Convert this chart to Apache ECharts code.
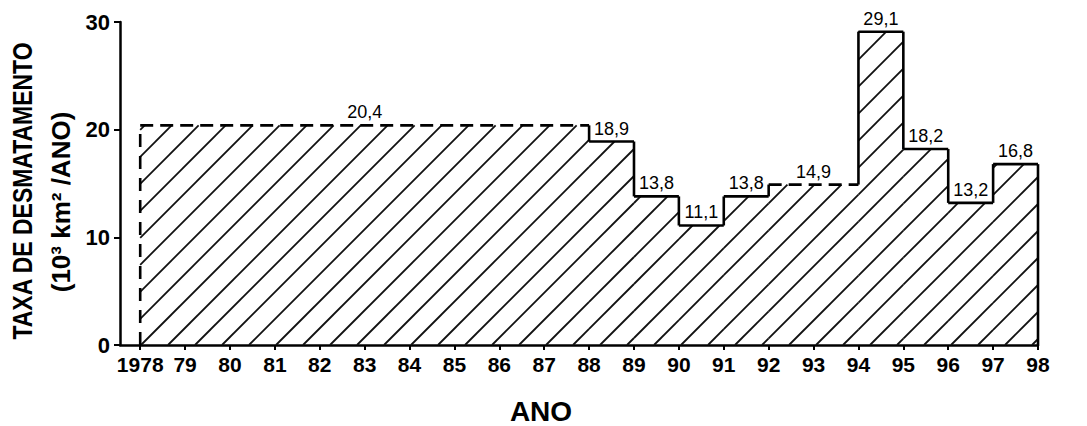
<!DOCTYPE html>
<html>
<head>
<meta charset="utf-8">
<script src="https://cdn.jsdelivr.net/npm/echarts@6/dist/echarts.min.js"></script>
<style>
html,body{margin:0;padding:0;background:#fff;}
#chart{width:1087px;height:426px;}
</style>
</head>
<body>
<div id="chart"></div>
<script>
// ---- data ----
const periodStart = [1978, 1988, 1989, 1990, 1991, 1992, 1994, 1995, 1996, 1997];
const periodEnd   = [1988, 1989, 1990, 1991, 1992, 1994, 1995, 1996, 1997, 1998];
const rates       = [20.4, 18.9, 13.8, 11.1, 13.8, 14.9, 29.1, 18.2, 13.2, 16.8];
const estimated   = [1, 0, 0, 0, 0, 1, 0, 0, 0, 0]; // dashed (mean of period)
const tickYears   = [1978,1979,1980,1981,1982,1983,1984,1985,1986,1987,1988,
                     1989,1990,1991,1992,1993,1994,1995,1996,1997,1998];
const tickLabels  = ['1978','79','80','81','82','83','84','85','86','87','88',
                     '89','90','91','92','93','94','95','96','97','98'];
const yTicks      = [0, 10, 20, 30];

const FONT = '"Liberation Sans", Arial, sans-serif';

const seriesData = periodStart.map((s, i) => [
  s, periodEnd[i], rates[i], i > 0 ? rates[i - 1] : 0, estimated[i]
]);
const lastIndex = seriesData.length - 1;

function renderItem(params, api) {
  const x0 = api.coord([api.value(0), 0])[0];
  const x1 = api.coord([api.value(1), 0])[0];
  const yb = api.coord([api.value(0), 0])[1];
  const yt = api.coord([api.value(0), api.value(2)])[1];
  const yp = api.coord([api.value(0), api.value(3)])[1];
  const dashed = api.value(4) === 1;
  const idx = params.dataIndex;
  const children = [];
  // diagonal hatching "/" : lines x + y = k
  const step = 27;
  for (let k = Math.ceil((x0 + yt) / step) * step; k <= x1 + yb; k += step) {
    const xa = Math.max(x0, k - yb);
    const xb = Math.min(x1, k - yt);
    if (xb > xa) {
      children.push({
        type: 'line', silent: true,
        shape: { x1: xa, y1: k - xa, x2: xb, y2: k - xb },
        style: { stroke: '#111', lineWidth: 1.8 }
      });
    }
  }
  // top edge
  children.push({
    type: 'line', silent: true,
    shape: { x1: x0, y1: yt, x2: x1, y2: yt },
    style: { stroke: '#000', lineWidth: 2.6, lineDash: dashed ? [13, 7] : null }
  });
  // left edge (from previous level)
  children.push({
    type: 'line', silent: true,
    shape: { x1: x0, y1: yp, x2: x0, y2: yt },
    style: { stroke: '#000', lineWidth: 2.6, lineDash: idx === 0 ? [13, 9] : null }
  });
  if (idx === lastIndex) {
    children.push({
      type: 'line', silent: true,
      shape: { x1: x1, y1: yt, x2: x1, y2: yb },
      style: { stroke: '#000', lineWidth: 2.6 }
    });
  }
  // value label
  children.push({
    type: 'text', silent: true,
    x: (x0 + x1) / 2, y: yt - 4,
    style: {
      text: api.value(2).toFixed(1).replace('.', ','),
      textAlign: 'center', textVerticalAlign: 'bottom',
      font: '18px ' + FONT, fill: '#000'
    }
  });
  return { type: 'group', children };
}

const chart = echarts.init(document.getElementById('chart'), null, { renderer: 'svg' });
chart.setOption({
  animation: false,
  backgroundColor: '#fff',
  grid: { left: 120, right: 49, top: 22, bottom: 81, containLabel: false },
  xAxis: {
    type: 'value', min: 1977.55, max: 1998,
    axisLine: { show: true, lineStyle: { color: '#000', width: 2.5 } },
    axisTick: { show: true, length: 5, customValues: tickYears,
                lineStyle: { color: '#000', width: 2 } },
    splitLine: { show: false },
    axisLabel: {
      margin: 9, color: '#000', fontFamily: FONT, fontSize: 21, fontWeight: 'bold',
      customValues: tickYears,
      formatter: v => tickLabels[tickYears.indexOf(Math.round(v))]
    }
  },
  yAxis: {
    type: 'value', min: yTicks[0], max: yTicks[yTicks.length - 1], interval: 10,
    axisLine: { show: true, lineStyle: { color: '#000', width: 2.5 } },
    axisTick: { show: true, length: 6, lineStyle: { color: '#000', width: 2 } },
    splitLine: { show: false },
    axisLabel: { margin: 10, color: '#000', fontFamily: FONT, fontSize: 22, fontWeight: 'bold' }
  },
  series: [{
    type: 'custom',
    renderItem: renderItem,
    data: seriesData,
    encode: { x: [0, 1], y: 2 },
    clip: false,
    z: 1
  }],
  graphic: [
    {
      type: 'text', x: 541, y: 411,
      style: { text: 'ANO', textAlign: 'center', textVerticalAlign: 'middle',
               font: 'bold 28px ' + FONT, fill: '#000' }
    },
    {
      type: 'text', x: 22, y: 191, rotation: Math.PI / 2, scaleX: 0.82,
      style: { text: 'TAXA DE DESMATAMENTO', textAlign: 'center', textVerticalAlign: 'middle',
               font: 'bold 28px ' + FONT, fill: '#000' }
    },
    {
      type: 'text', x: 61, y: 202, rotation: Math.PI / 2,
      style: { text: '(10³ km² /ANO)', textAlign: 'center', textVerticalAlign: 'middle',
               font: 'bold 26px ' + FONT, fill: '#000' }
    }
  ]
});
</script>
</body>
</html>
